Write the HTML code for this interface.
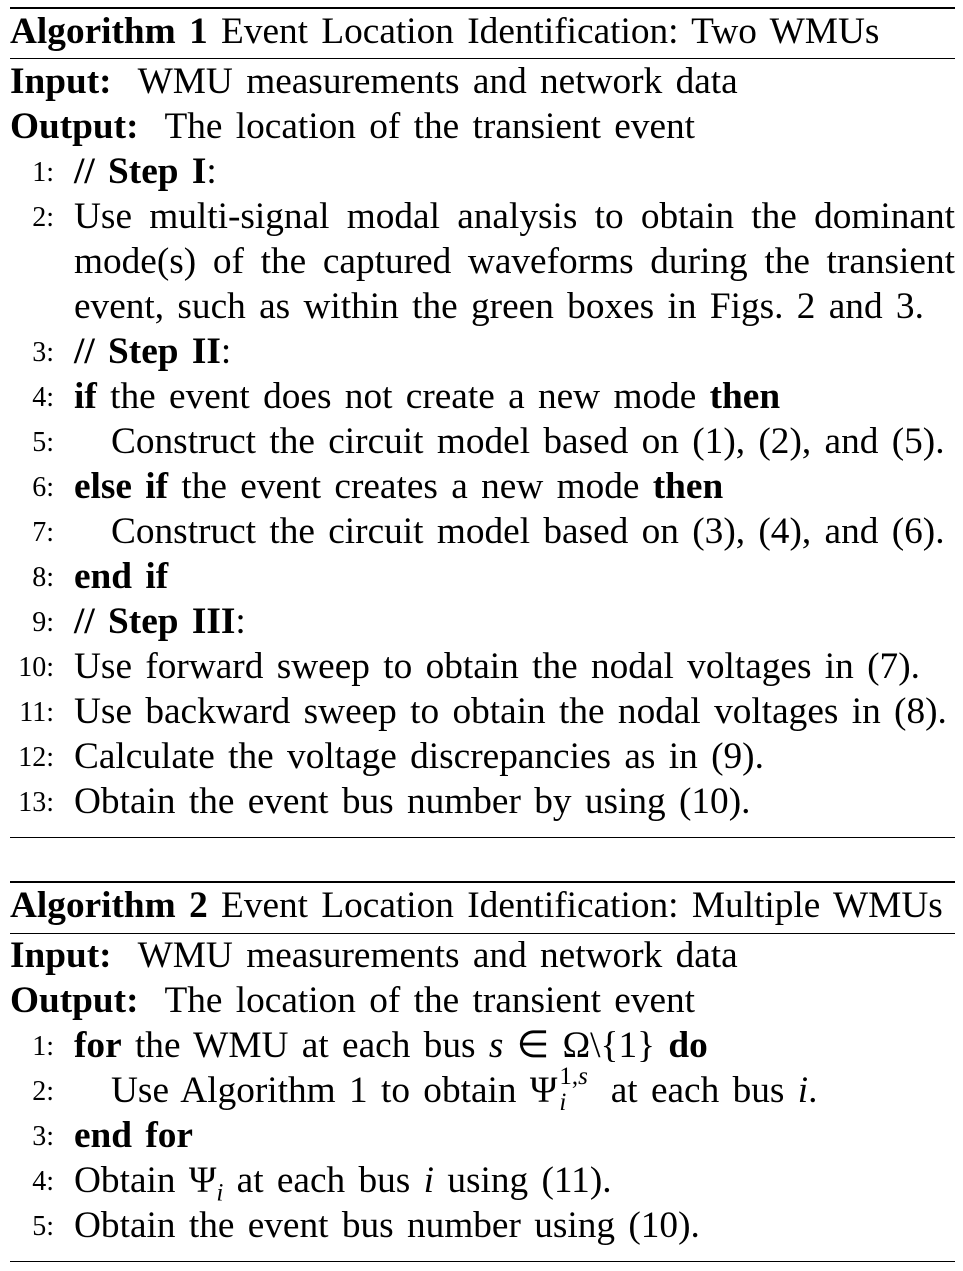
<!DOCTYPE html>
<html><head><meta charset="utf-8">
<style>
html,body{margin:0;padding:0;background:#fff;}
body{width:963px;height:1271px;position:relative;overflow:hidden;font-family:"Liberation Serif",serif;color:#000;}
.r{position:absolute;left:10px;width:945px;background:#000;}
.l{position:absolute;left:10px;height:46px;line-height:46px;font-size:37.3px;white-space:nowrap;word-spacing:4px;}
.n{position:absolute;width:44px;text-align:right;left:0;font-size:28px;height:46px;line-height:48px;}
.t{position:absolute;left:74px;height:46px;line-height:46px;font-size:37.3px;white-space:nowrap;word-spacing:4px;}
.j{width:881px;text-align:justify;text-align-last:justify;white-space:normal;word-spacing:0;}
.in{left:111px;}
b{font-weight:bold;}
</style></head><body>
<div class="r" style="top:7px;height:2px"></div>
<div class="l" style="top:9px"><b>Algorithm 1</b> Event Location Identification: Two WMUs</div>
<div class="r" style="top:58px;height:1px"></div>
<div class="l" style="top:59px"><b>Input:</b>&nbsp; WMU measurements and network data</div>
<div class="l" style="top:104px"><b>Output:</b>&nbsp; The location of the transient event</div>

<div class="n" style="left:10px;top:149px">1:</div><div class="t" style="top:149px"><b>// Step I</b>:</div>
<div class="n" style="left:10px;top:194px">2:</div><div class="t j" style="top:194px">Use multi-signal modal analysis to obtain the dominant</div>
<div class="t j" style="top:239px">mode(s) of the captured waveforms during the transient</div>
<div class="t" style="top:284px">event, such as within the green boxes in Figs. 2 and 3.</div>
<div class="n" style="left:10px;top:329px">3:</div><div class="t" style="top:329px"><b>// Step II</b>:</div>
<div class="n" style="left:10px;top:374px">4:</div><div class="t" style="top:374px"><b>if</b> the event does not create a new mode <b>then</b></div>
<div class="n" style="left:10px;top:419px">5:</div><div class="t in" style="top:419px">Construct the circuit model based on (1), (2), and (5).</div>
<div class="n" style="left:10px;top:464px">6:</div><div class="t" style="top:464px"><b>else if</b> the event creates a new mode <b>then</b></div>
<div class="n" style="left:10px;top:509px">7:</div><div class="t in" style="top:509px">Construct the circuit model based on (3), (4), and (6).</div>
<div class="n" style="left:10px;top:554px">8:</div><div class="t" style="top:554px"><b>end if</b></div>
<div class="n" style="left:10px;top:599px">9:</div><div class="t" style="top:599px"><b>// Step III</b>:</div>
<div class="n" style="left:10px;top:644px">10:</div><div class="t" style="top:644px">Use forward sweep to obtain the nodal voltages in (7).</div>
<div class="n" style="left:10px;top:689px">11:</div><div class="t" style="top:689px">Use backward sweep to obtain the nodal voltages in (8).</div>
<div class="n" style="left:10px;top:734px">12:</div><div class="t" style="top:734px">Calculate the voltage discrepancies as in (9).</div>
<div class="n" style="left:10px;top:779px">13:</div><div class="t" style="top:779px">Obtain the event bus number by using (10).</div>
<div class="r" style="top:837px;height:1px"></div>

<div class="r" style="top:881px;height:2px"></div>
<div class="l" style="top:883px"><b>Algorithm 2</b> Event Location Identification: Multiple WMUs</div>
<div class="r" style="top:933px;height:1px"></div>
<div class="l" style="top:933px"><b>Input:</b>&nbsp; WMU measurements and network data</div>
<div class="l" style="top:978px"><b>Output:</b>&nbsp; The location of the transient event</div>
<div class="n" style="left:10px;top:1023px">1:</div><div class="t" style="top:1023px"><b>for</b> the WMU at each bus <i>s</i> ∈ Ω\{1} <b>do</b></div>
<div class="n" style="left:10px;top:1068px">2:</div><div class="t in" style="top:1068px">Use Algorithm 1 to obtain Ψ<span style="position:relative;display:inline-block;width:40px;height:46px;vertical-align:top;word-spacing:0"><span style="position:absolute;left:2px;top:-14px;font-size:25px">1,<i>s</i></span><span style="position:absolute;left:2px;top:12px;font-size:25px"><i>i</i></span></span> at each bus <i>i</i>.</div>
<div class="n" style="left:10px;top:1113px">3:</div><div class="t" style="top:1113px"><b>end for</b></div>
<div class="n" style="left:10px;top:1158px">4:</div><div class="t" style="top:1158px">Obtain Ψ<sub style="font-size:25px;line-height:0"><i>i</i></sub> at each bus <i>i</i> using (11).</div>
<div class="n" style="left:10px;top:1203px">5:</div><div class="t" style="top:1203px">Obtain the event bus number using (10).</div>
<div class="r" style="top:1261px;height:1px"></div>
</body></html>
